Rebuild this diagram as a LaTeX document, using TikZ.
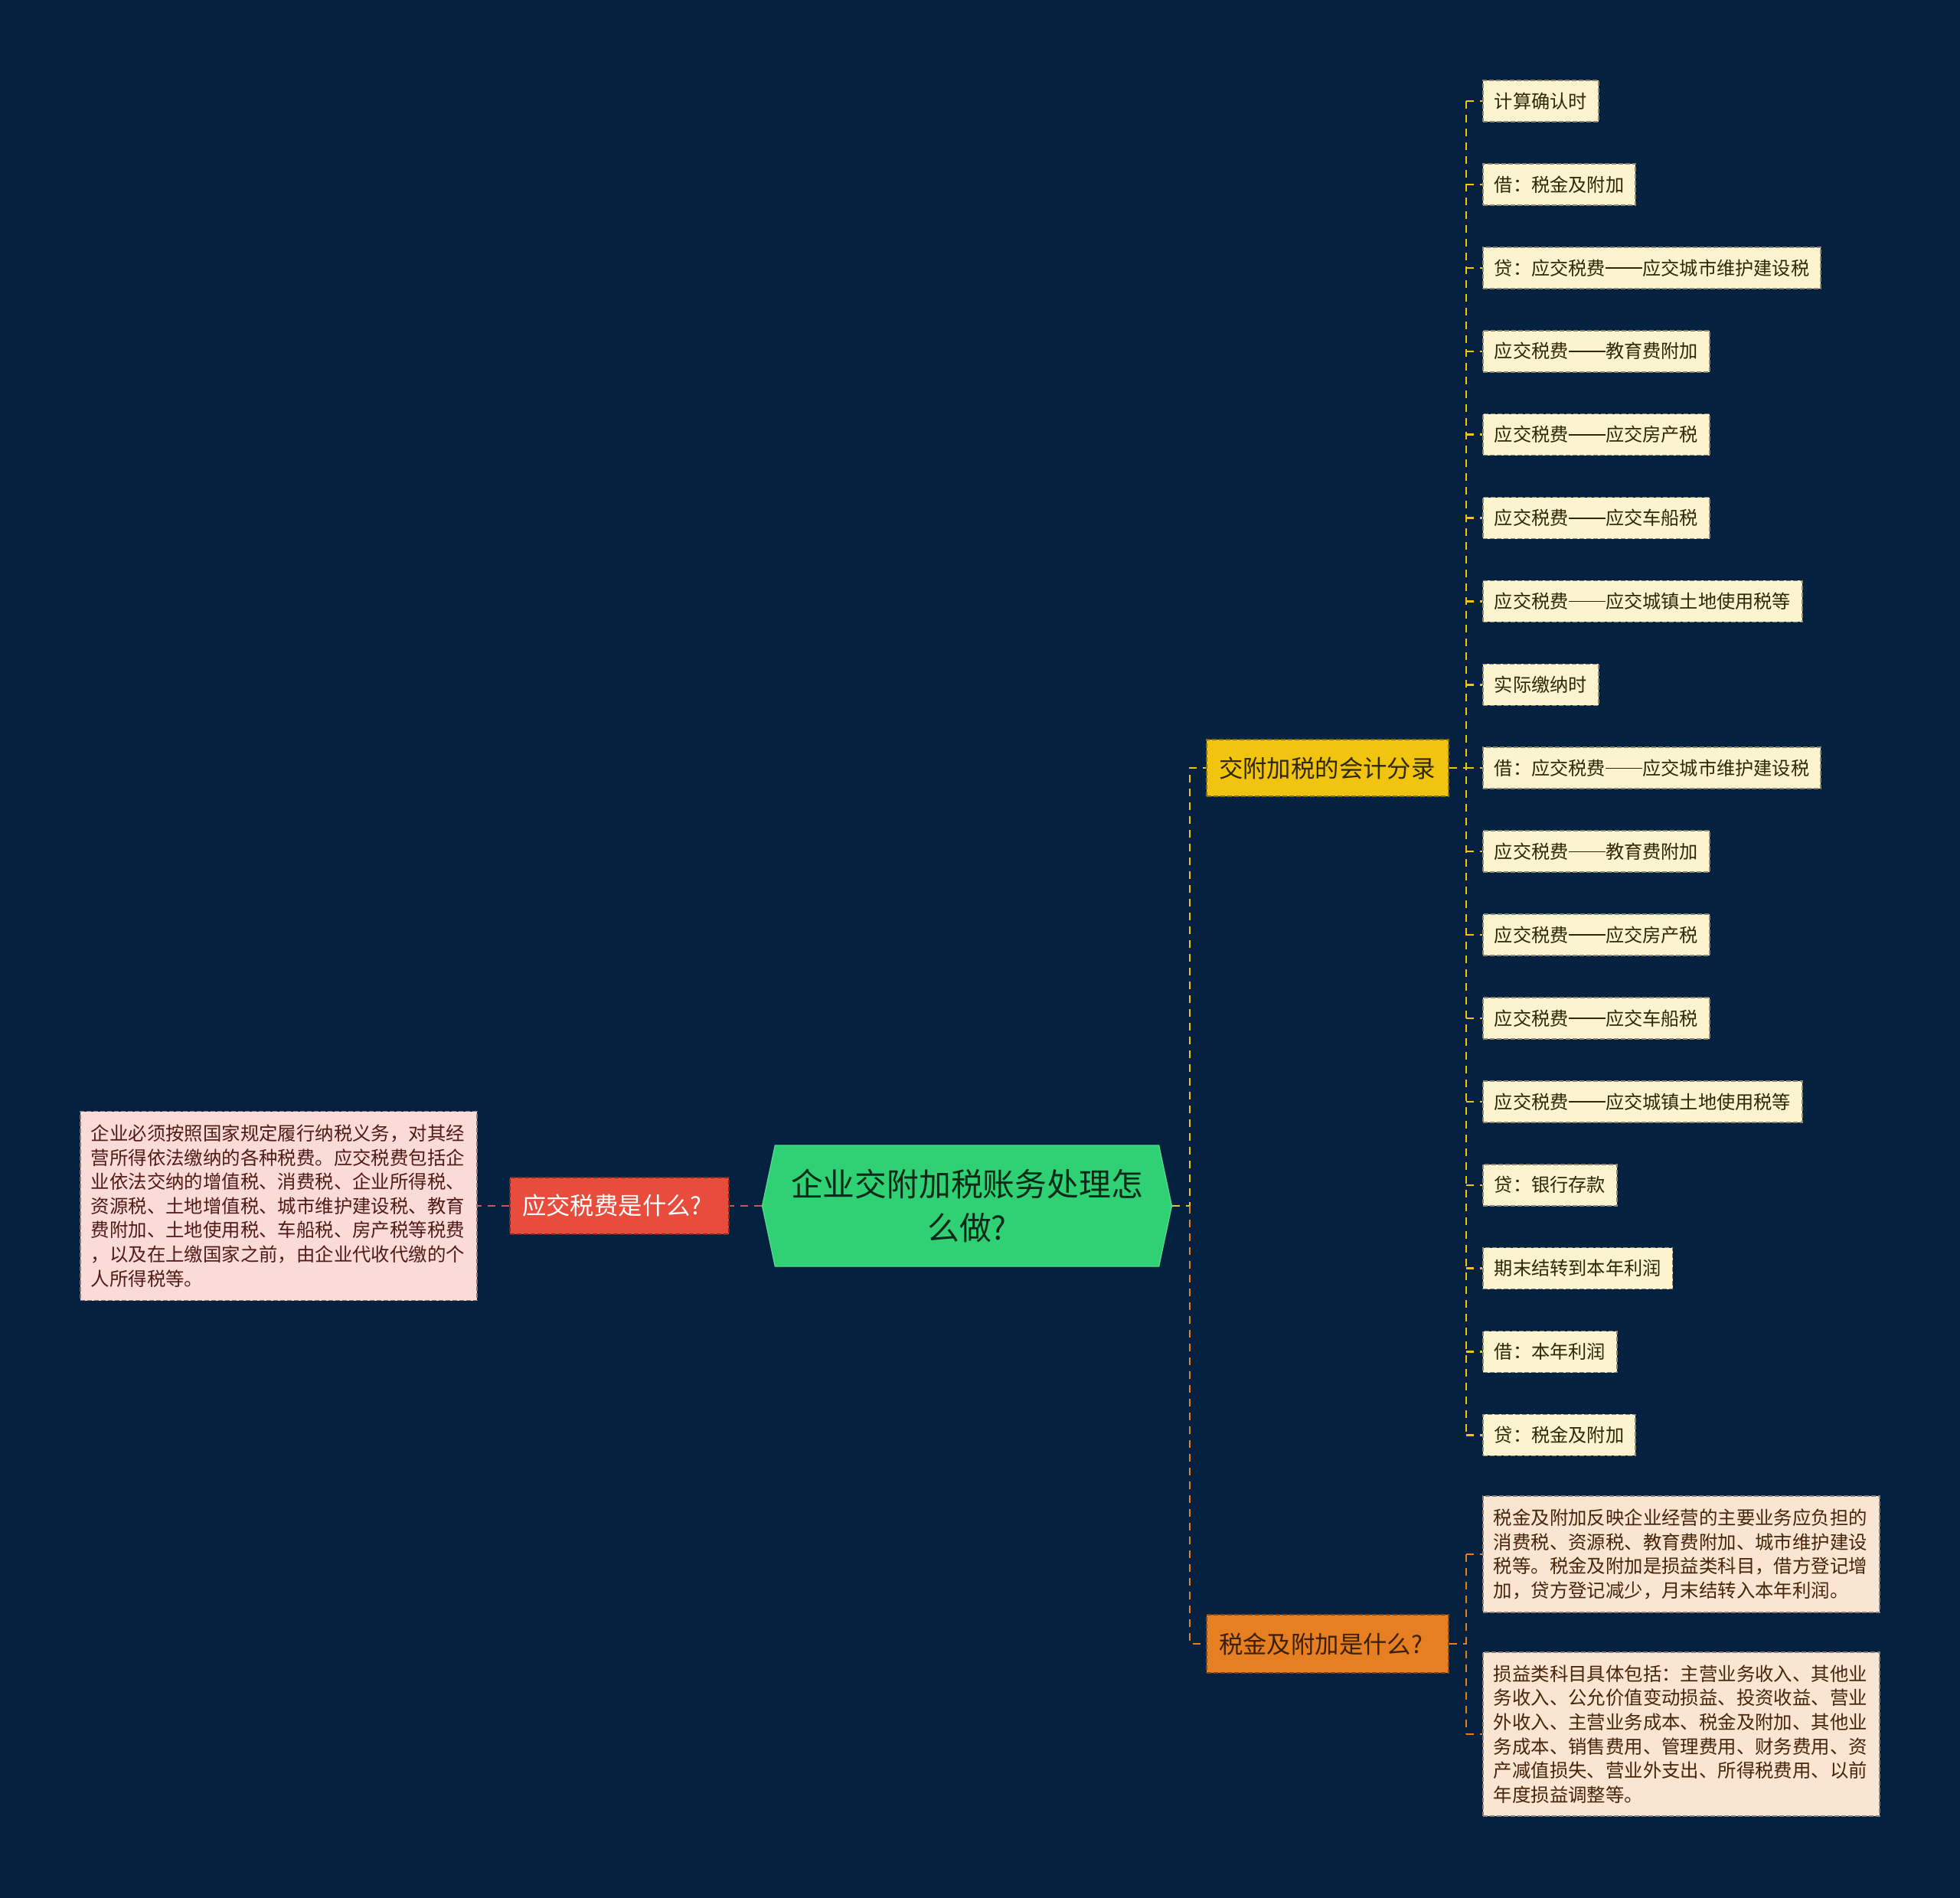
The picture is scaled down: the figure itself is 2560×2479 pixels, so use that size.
\documentclass[tikz,border=0pt]{standalone}
\usepackage{fontspec}
\usepackage{xcolor}
\usepackage{tikz}
\usetikzlibrary{positioning,calc,shapes.symbols}
\newfontfamily\cjk{Noto Sans CJK SC}
\newcommand\longdash{\rule[0.34em]{2em}{0.065em}}
\definecolor{mapnavy}{HTML}{04213F}
\definecolor{mapgreen}{HTML}{30D174}
\definecolor{mapred}{HTML}{E74C3C}
\definecolor{mappink}{HTML}{FADBD8}
\definecolor{mapyellow}{HTML}{F1C40F}
\definecolor{maporange}{HTML}{E67E22}
\definecolor{mapcream}{HTML}{FCF3CF}
\definecolor{mappeach}{HTML}{FAE5D3}

\begin{document}
\begin{tikzpicture}[x=1pt,y=-1pt,
  card/.style={fill=#1,draw=#1!55!black,line width=1.6pt,dash pattern=on 6pt off 3pt,font=\cjk},
  root/.style={shape=signal,signal to=west and east,signal pointer angle=156,fill=mapgreen,draw=mapgreen!80!white,line width=1.2pt,
    minimum width=535pt,minimum height=158pt,align=center,text=black!80!mapgreen,font=\cjk\fontsize{41.8}{57}\selectfont},
  topic/.style={card=#1,minimum height=74pt,inner xsep=16pt,text width=284pt,align=left,font=\cjk\fontsize{31.4}{38}\selectfont},
  leaf/.style={card=mapcream,anchor=west,minimum height=54pt,inner xsep=15pt,text=black!80!mapyellow,font=\cjk\fontsize{24.2}{28}\selectfont},
  note/.style={card=#1,anchor=west,inner xsep=14pt,inner ysep=4pt,text width=490pt,align=left,font=\cjk\fontsize{24.4}{31.6}\selectfont},
  link/.style={draw=#1,line width=2.4pt,dash pattern=on 10pt off 8pt}
]
\fill[mapnavy] (0,0) rectangle (2560,2479);
\useasboundingbox (0,0) rectangle (2560,2479);

\node[root] (root) at (1263,1575) {企业交附加税账务处理怎\\么做?};

\node[topic=mapred,text=white,text width=254pt] (duty) at (809,1575) {应交税费是什么?};
\node[note=mappink,text=black!65!mapred,minimum height=247pt] (dutynote) at (104,1575) {企业必须按照国家规定履行纳税义务，对其经\\营所得依法缴纳的各种税费。应交税费包括企\\业依法交纳的增值税、消费税、企业所得税、\\资源税、土地增值税、城市维护建设税、教育\\费附加、土地使用税、车船税、房产税等税费\\，以及在上缴国家之前，由企业代收代缴的个\\人所得税等。};

\node[topic=mapyellow,text=black!80!mapyellow] (acct) at (1734,1003) {交附加税的会计分录};
\node[topic=maporange,text=black!75!maporange,minimum height=76pt] (tax) at (1734,2147) {税金及附加是什么?};

\foreach \txt [count=\i] in {计算确认时, 借：税金及附加, 贷：应交税费\longdash 应交城市维护建设税, 应交税费\longdash 教育费附加, 应交税费\longdash 应交房产税, 应交税费\longdash 应交车船税, 应交税费\longdash 应交城镇土地使用税等, 实际缴纳时, 借：应交税费\longdash 应交城市维护建设税, 应交税费\longdash 教育费附加, 应交税费\longdash 应交房产税, 应交税费\longdash 应交车船税, 应交税费\longdash 应交城镇土地使用税等, 贷：银行存款, 期末结转到本年利润, 借：本年利润, 贷：税金及附加}
  \node[leaf] (l\i) at (1936,{132+(\i-1)*108.9}) {\txt};

\node[note=mappeach,text=black!70!maporange,minimum height=152pt] (d1) at (1936,2030) {税金及附加反映企业经营的主要业务应负担的\\消费税、资源税、教育费附加、城市维护建设\\税等。税金及附加是损益类科目，借方登记增\\加，贷方登记减少，月末结转入本年利润。};
\node[note=mappeach,text=black!70!maporange,minimum height=214pt] (d2) at (1936,2265) {损益类科目具体包括：主营业务收入、其他业\\务收入、公允价值变动损益、投资收益、营业\\外收入、主营业务成本、税金及附加、其他业\\务成本、销售费用、管理费用、财务费用、资\\产减值损失、营业外支出、所得税费用、以前\\年度损益调整等。};

\coordinate (rootfork) at (1554,1575);
\coordinate (acctfork) at (1915,1003);
\coordinate (taxfork) at (1915,2147);

\draw[link=mapred] (root.west) -- (duty.east);
\draw[link=mapred] (duty.west) -- (dutynote.east);
\draw[link=mapyellow] (root.east) -- (rootfork) |- (acct.west);
\draw[link=maporange] (rootfork) |- (tax.west);

\draw[link=mapyellow] (acct.east) -- (acctfork);
\draw[link=mapyellow] (acctfork |- l1.west) -- (acctfork |- l17.west);
\foreach \i in {1,...,17}
  \draw[link=mapyellow] (acctfork |- l\i.west) -- (l\i.west);

\draw[link=maporange] (tax.east) -- (taxfork);
\draw[link=maporange] (taxfork |- d1.west) -- (taxfork |- d2.west);
\draw[link=maporange] (taxfork |- d1.west) -- (d1.west);
\draw[link=maporange] (taxfork |- d2.west) -- (d2.west);
\end{tikzpicture}
\end{document}
